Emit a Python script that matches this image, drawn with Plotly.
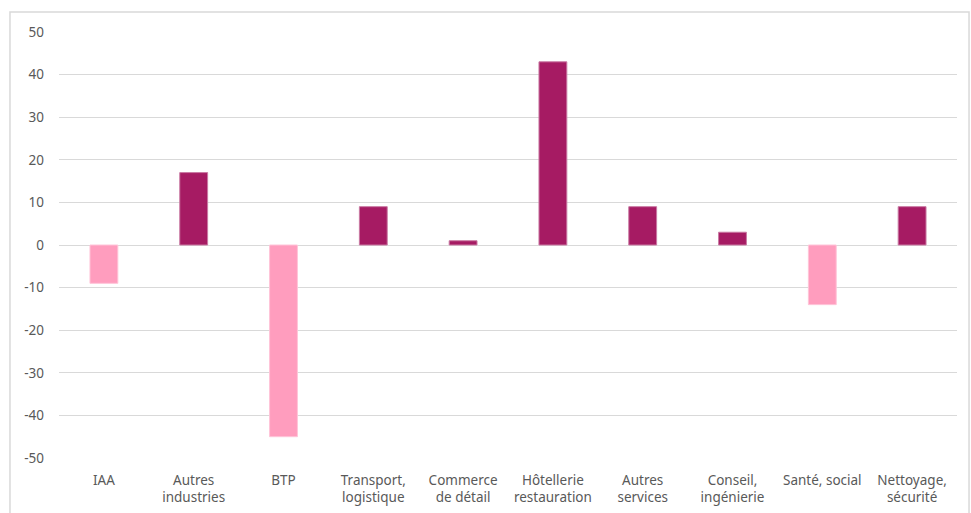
import plotly.graph_objects as go

categories = ["IAA", "Autres<br>industries", "BTP", "Transport,<br>logistique",
              "Commerce<br>de détail", "Hôtellerie<br>restauration", "Autres<br>services",
              "Conseil,<br>ingénierie", "Santé, social", "Nettoyage,<br>sécurité"]
values = [-9, 17, -45, 9, 1, 43, 9, 3, -14, 9]
y_ticks = [-50, -40, -30, -20, -10, 0, 10, 20, 30, 40, 50]
y_tick_text = [str(t) for t in y_ticks]

POS = "#A61B63"
NEG = "#FF9DBE"
colors = [POS if v >= 0 else NEG for v in values]
edges = ["#C97AA3" if v >= 0 else "#FFC4D8" for v in values]

fig = go.Figure(go.Bar(
    x=categories, y=values,
    marker=dict(color=colors, line=dict(color=edges, width=1)),
    hoverinfo="x+y",
))

font = dict(family="Noto Sans, Open Sans, sans-serif", size=13.5, color="#595959")
fig.update_layout(
    width=971, height=513,
    margin=dict(l=59, r=14, t=32, b=55),
    paper_bgcolor="white", plot_bgcolor="white",
    bargap=0.69,
    showlegend=False,
    font=font,
    xaxis=dict(showgrid=False, showline=False, ticks="", tickangle=0,
               tickfont=font, automargin=False, ticklabelstandoff=12),
    yaxis=dict(range=[-50, 50], tickvals=y_ticks, ticktext=y_tick_text,
               showgrid=True, gridcolor="#D9D9D9",
               gridwidth=1, zeroline=True, zerolinecolor="#D9D9D9", zerolinewidth=1,
               showline=False, ticks="", ticklabelstandoff=14, tickfont=font,
               automargin=False),
    shapes=[dict(type="rect", xref="paper", yref="paper",
                 x0=-0.0546, x1=1.0134, y0=-0.3, y1=1.047,
                 line=dict(color="#D9D9D9", width=1.5), fillcolor="rgba(0,0,0,0)",
                 layer="below")],
)

fig.write_html("out.html", config={"displayModeBar": False},
               post_script="document.body.style.margin='0';document.body.style.overflow='hidden';")
